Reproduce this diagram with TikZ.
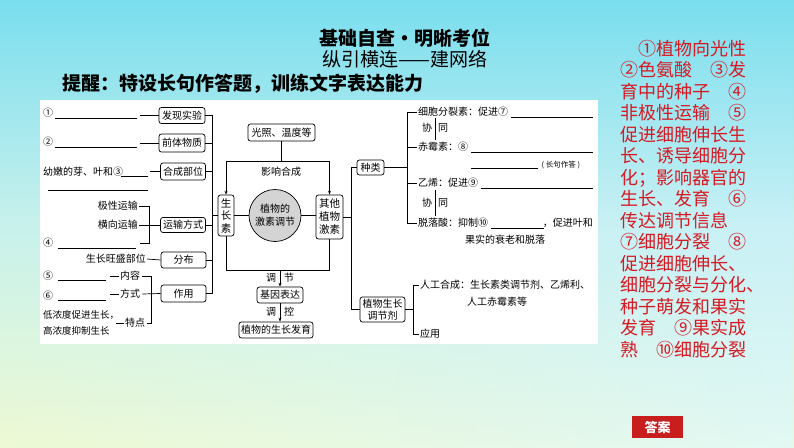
\documentclass[tikz,border=0pt]{standalone}
\usepackage{fontspec}
\setmainfont{Noto Sans CJK SC}
\usetikzlibrary{arrows.meta,calc,fadings}
\definecolor{bgtop}{RGB}{122,222,238}
\definecolor{bgmid}{RGB}{200,242,236}
\definecolor{bgbot}{RGB}{238,250,212}
\definecolor{bgrmid}{RGB}{200,240,246}
\definecolor{bgrbot}{RGB}{226,248,244}
\definecolor{ansred}{RGB}{215,25,35}
\definecolor{btnred}{RGB}{200,30,30}
\definecolor{circgray}{RGB}{212,212,212}
\begin{document}
\begin{tikzpicture}[x=1pt,y=-1pt,
  every node/.style={inner sep=0pt, font=\fontsize{10}{12}\selectfont},
  box/.style={draw, rounded corners=2.5pt, fill=white, line width=0.7pt, inner sep=1.5pt, minimum height=16pt, align=center},
  ln/.style={line width=0.7pt},
  arr/.style={line width=0.7pt, -{Stealth[length=4pt,width=3pt]}},
  lbl/.style={anchor=west, inner sep=0pt},
  small/.style={font=\fontsize{7.5}{9}\selectfont},
]
\shade[top color=bgtop, bottom color=bgbot, middle color=bgmid] (0,0) rectangle (794,447);
\shade[top color=bgtop, bottom color=bgrbot, middle color=bgrmid, path fading=west] (0,0) rectangle (794,447);
\useasboundingbox (0,0) rectangle (794,447);
\fill[white] (40,100) rectangle (598,344);

% titles
\node[font=\fontsize{19}{20}\selectfont\bfseries] (t1) at (405,38) {基础自查・明晰考位};
\node[font=\fontsize{19}{20}\selectfont] (t2) at (405,59) {纵引横连——建网络};
\node[font=\fontsize{19}{20}\selectfont\bfseries, anchor=west] (t3) at (62,84) {提醒：特设长句作答题，训练文字表达能力};

% answer text
\node[anchor=north west, align=left, text=ansred, font=\fontsize{18}{21.5}\selectfont] (ans) at (620,40) {%
　①植物向光性\\
②色氨酸　③发\\
育中的种子　④\\
非极性运输　⑤\\
促进细胞伸长生\\
长、诱导细胞分\\
化；影响器官的\\
生长、发育　⑥\\
传达调节信息\\
⑦细胞分裂　⑧\\
促进细胞伸长、\\
细胞分裂与分化、\\
种子萌发和果实\\
发育　⑨果实成\\
熟　⑩细胞分裂};
\node[fill=btnred, text=white, font=\fontsize{13}{14}\selectfont\bfseries, minimum width=51, minimum height=22] (btn) at (657.5,427) {答案};

% left boxes
\node[box, minimum width=46] (fx) at (182,115.5) {发现实验};
\node[box, minimum width=46, minimum height=18] (qt) at (182,143) {前体物质};
\node[box, minimum width=45, minimum height=17] (hc) at (183,171.5) {合成部位};
\node[box, minimum width=45, minimum height=15] (ys) at (183,225) {运输方式};
\node[box, minimum width=45] (fb) at (183.5,260) {分布};
\node[box, minimum width=45, minimum height=17] (zy) at (183.5,293.5) {作用};
\coordinate (LB) at (212,0);
\draw[ln] (fx.east) -- (fx.east -| LB) -- (zy.east -| LB) -- (zy.east);
\foreach \n in {qt,hc,ys,fb} \draw[ln] (\n.east) -- (\n.east -| LB);

% centre
\node[box, minimum width=16, minimum height=41, inner sep=1pt, font=\fontsize{10.5}{12.5}\selectfont] (szs) at (226,215.5) {生\\长\\素};
\draw[ln] (szs.west) -- (szs.west -| LB);
\node[circle, draw, fill=circgray, line width=0.7pt, minimum size=52, align=center, font=\fontsize{10}{13}\selectfont] (jc) at (275,215.5) {植物的\\激素调节};
\node[box, minimum width=27, minimum height=44, inner sep=1pt, font=\fontsize{10.5}{13}\selectfont] (qtjs) at (329.5,217) {其他\\植物\\激素};
\draw[ln] (szs.east) -- (jc.west);
\draw[ln] (jc.east) -- (jc.east -| qtjs.west);

\node[box, minimum width=67, minimum height=17] (gz) at (281.5,132.5) {光照、温度等};
\coordinate (TY) at (0,161);
\draw[ln] (szs.north |- TY) -- (qtjs.north |- TY);
\draw[ln] (gz.south) -- (gz.south |- TY);
\draw[arr] (szs.north |- TY) -- (szs.north);
\draw[arr] (qtjs.north |- TY) -- (qtjs.north);
\node (yx) at (281,172) {影响合成};

\coordinate (BY) at (0,270);
\draw[ln] (szs.south) -- (szs.south |- BY) -- (qtjs.south |- BY) -- (qtjs.south);
\node[box, minimum width=46, minimum height=16] (jy) at (280,295) {基因表达};
\node[box, minimum width=74, minimum height=16] (zw) at (276,330) {植物的生长发育};
\draw[arr] (jy.north |- BY) -- (jy.north);
\draw[arr] (jy.south) -- (jy.south |- zw.north);
\node (d1) at (271,278) {调}; \node (d2) at (289,278) {节};
\node (d3) at (271,312) {调}; \node (d4) at (289,312) {控};

% right part
\node[box, minimum width=27, minimum height=15] (zl) at (370.5,167.5) {种类};
\node[box, minimum width=45, minimum height=25, inner sep=1pt, font=\fontsize{10}{12}\selectfont] (tjj) at (382.5,309.5) {植物生长\\调节剂};
\coordinate (RB) at (351,0);
\draw[ln] (qtjs.east) -- (qtjs.east -| RB);
\draw[ln] (zl.west) -- (zl.west -| RB) -- (tjj.west -| RB) -- (tjj.west);

\coordinate (ZB) at (407,0);
\coordinate (UR) at (593,0);
\coordinate (r1) at (417,112);
\coordinate (r2) at (417,147);
\coordinate (r3) at (417,183);
\coordinate (r4) at (417,223);
\draw[ln] (zl.east) -- (zl.east -| ZB);
\draw[ln] (r1 -| ZB) -- (r4 -| ZB);
\foreach \r in {r1,r2,r3,r4} \draw[ln] (\r -| ZB) -- (\r);
\node[lbl] (t7) at ([xshift=1pt]r1) {细胞分裂素：促进⑦};
\draw[ln] ([shift={(3pt,-1.5pt)}]t7.base east) coordinate (u7) -- (u7 -| UR);
\node[lbl] (t8) at ([xshift=1pt]r2) {赤霉素：⑧};
\draw[ln] ([shift={(3pt,-1.5pt)}]t8.base east) coordinate (u8) -- (u8 -| UR);
\draw[ln] (u8) ++(0,16) coordinate (u8b) -- ++(67,0) coordinate (u8e);
\node[small, anchor=west] (cj) at ([shift={(3pt,3pt)}]u8e) {( 长句作答 )};
\node[lbl] (t9) at ([xshift=1pt]r3) {乙烯：促进⑨};
\draw[ln] ([shift={(3pt,-1.5pt)}]t9.base east) coordinate (u9) -- (u9 -| UR);
\node[lbl] (t10) at ([xshift=1pt]r4) {脱落酸：抑制⑩};
\node[anchor=base east] (t10b) at (t10.base -| UR) {，促进叶和};
\draw[ln] ([shift={(3pt,-1.5pt)}]t10.base east) -- ([shift={(1pt,-1.5pt)}]t10b.base west);
\node[anchor=west] (t10c) at (465,240) {果实的衰老和脱落};

\node (x1) at (427,128) {协}; \node (x2) at (443,128) {同};
\draw[ln] (435,118) -- (435,140);
\node (x3) at (427,203) {协}; \node (x4) at (443,203) {同};
\draw[ln] (435,190) -- (435,216);

\coordinate (TB) at (413,0);
\coordinate (s1) at (419,285);
\coordinate (s2) at (419,334);
\draw[ln] (tjj.east) -- (tjj.east -| TB);
\draw[ln] (s1) -- (s1 -| TB) -- (s2 -| TB) -- (s2);
\node[lbl] (rg) at ([xshift=1pt]s1) {人工合成：生长素类调节剂、乙烯利、};
\node (rg2) at (497,302) {人工赤霉素等};
\node[lbl] (yy) at ([xshift=1pt]s2) {应用};

% left texts
\node[lbl] (c1) at (43,113) {①};
\draw[ln] (55,118) -- (137,118);
\draw[ln] (fx.west) -- ++(-19,0);
\node[lbl] (c2) at (43,142) {②};
\draw[ln] (55,147) -- (137,147);
\draw[ln] (qt.west) -- ++(-19,0);
\node[lbl] (c3) at (43,172) {幼嫩的芽、叶和③};
\draw[ln] (121,176) -- (148,176);
\draw[ln] (hc.west) -- ++(-10,0);
\draw[ln] (48,190) -- (148,190);

\node[anchor=east] (jx) at (138,206) {极性运输};
\node[anchor=east] (hx) at (138,225) {横向运输};
\coordinate (YB) at (149,0);
\coordinate (yb) at (140,243);
\draw[ln] ([xshift=1pt]jx.east) -- (jx.east -| YB) -- (yb -| YB) -- (yb);
\draw[ln] ([xshift=1pt]hx.east) -- (ys.west);
\node[lbl] (c4) at (43,243) {④};
\draw[ln] (58,248) -- (136,248);

\node[anchor=east] (sw) at (146,259) {生长旺盛部位};
\draw[ln] ([xshift=1pt]sw.east) -- (fb.west);

\coordinate (ZB2) at (151,0);
\node[lbl] (c5) at (43,276) {⑤};
\draw[ln] (58,280) -- (106,280);
\draw[ln] (110,276) -- (119,276);
\node[lbl] (nr) at (120,276) {内容};
\node[lbl] (c6) at (43,296) {⑥};
\draw[ln] (58,300) -- (106,300);
\draw[ln] (110,294) -- (119,294);
\node[lbl] (fs) at (120,294) {方式};
\node[anchor=west, align=left, font=\fontsize{9.5}{16}\selectfont] (dn) at (43,323) {低浓度促进生长，\\高浓度抑制生长};
\draw[ln] (116,323) -- (124,323);
\node[lbl] (td) at (125,323) {特点};
\draw[ln] ([xshift=2pt]nr.east) -- (nr.east -| ZB2) -- (td.east -| ZB2) -- ([xshift=2pt]td.east);
\draw[ln] ([xshift=2pt]fs.east) -- (zy.west);
\end{tikzpicture}
\end{document}
